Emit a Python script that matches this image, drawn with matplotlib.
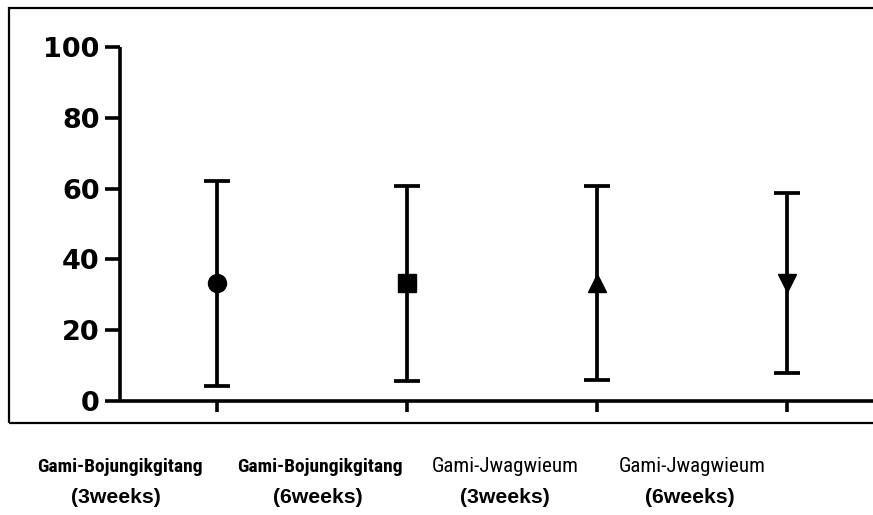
import matplotlib
matplotlib.use("Agg")
import matplotlib.pyplot as plt
from matplotlib.patches import Rectangle

groups = ["Gami-Bojungikgitang", "Gami-Bojungikgitang", "Gami-Jwagwieum", "Gami-Jwagwieum"]
periods = ["(3weeks)", "(6weeks)", "(3weeks)", "(6weeks)"]
means = [33.2, 33.2, 33.3, 33.3]
sds = [29.0, 27.5, 27.4, 25.4]
markers = ["o", "s", "^", "v"]
yticks = [0, 20, 40, 60, 80, 100]

# label styling / placement (figure pixels)
name_bold = [True, True, False, False]
name_size = [14, 14, 15.1, 15.1]
name_x = [120, 320, 505, 692]
period_x = [116, 318, 505, 690]

W, H = 873, 515
fig = plt.figure(figsize=(W / 100, H / 100), dpi=100)
ax = fig.add_axes([120 / W, 1 - 401 / H, 1 - 120 / W, (401 - 47) / H])

xs = list(range(1, len(means) + 1))
for x, m, s, mk in zip(xs, means, sds, markers):
    ax.errorbar(x, m, yerr=s, fmt=mk, color="black", ms=13, elinewidth=2.7,
                capsize=9.5, capthick=2.7, clip_on=False, zorder=3)

ax.set_xlim(1 - 96.7 / 190, 1 + (W - 216.7) / 190)
ax.set_ylim(0, 100)
ax.set_yticks(yticks)
ax.set_yticklabels([str(v) for v in yticks], fontfamily="DejaVu Sans",
                   fontweight="bold", fontsize=19.5)
ax.set_xticks(xs)
ax.set_xticklabels([])
ax.tick_params(axis="y", length=11, width=2.6, pad=3.5)
ax.tick_params(axis="x", length=8, width=2.6)
for side in ["top", "right"]:
    ax.spines[side].set_visible(False)
for side in ["left", "bottom"]:
    ax.spines[side].set_linewidth(2.6)
    ax.spines[side].set_capstyle("butt")

# outer frame that surrounds the plot area
fig.patches.append(Rectangle((9 / W, 1 - 423 / H), 1.0, (423 - 8) / H,
                             transform=fig.transFigure, fill=False,
                             edgecolor="black", linewidth=1.6, zorder=0))

narrow = ["Roboto Condensed", "Liberation Sans"]
for i in range(len(groups)):
    fig.text(name_x[i] / W, 1 - 472 / H, groups[i], ha="center", va="baseline",
             fontsize=name_size[i], family=narrow,
             fontweight="bold" if name_bold[i] else "normal")
    fig.text(period_x[i] / W, 1 - 503 / H, periods[i], ha="center", va="baseline",
             fontsize=15.3, family="Liberation Sans", fontweight="bold")

fig.savefig("out.png", dpi=100)
